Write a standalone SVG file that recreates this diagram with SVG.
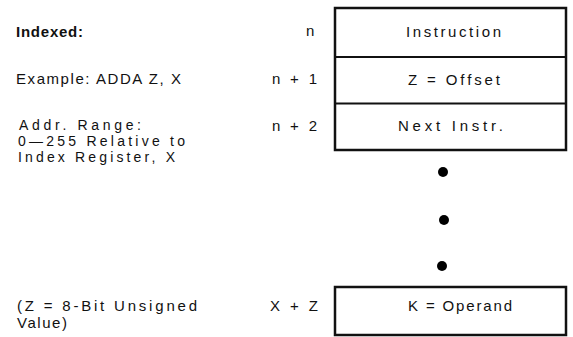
<svg xmlns="http://www.w3.org/2000/svg" width="573" height="337" viewBox="0 0 573 337">
<style>
text{font-family:"Liberation Sans",Arial,sans-serif;font-size:15px;fill:#111}
.b{font-weight:bold}
.s{font-size:14px}
.box{fill:#fff;stroke:#111;stroke-width:2.5}
.div{stroke:#111;stroke-width:2}
.dot{fill:#000}
</style>
<rect width="573" height="337" fill="#fff"/>
<g id="labels">
<text class="b" x="16" y="37" textLength="67" lengthAdjust="spacing">Indexed:</text>
<text x="16" y="84" textLength="165" lengthAdjust="spacing">Example: ADDA Z, X</text>
<text class="s" x="19" y="130" textLength="122" lengthAdjust="spacing">Addr. Range:</text>
<text class="s" x="18" y="146" textLength="167" lengthAdjust="spacing">0—255 Relative to</text>
<text class="s" x="18" y="162" textLength="157" lengthAdjust="spacing">Index Register, X</text>
<text x="17" y="311" textLength="180" lengthAdjust="spacing">(Z = 8-Bit Unsigned</text>
<text x="17" y="328" textLength="50" lengthAdjust="spacing">Value)</text>
</g>
<g id="addresses">
<text x="306" y="36">n</text>
<text x="272" y="84" textLength="45" lengthAdjust="spacing">n + 1</text>
<text x="272" y="131" textLength="45" lengthAdjust="spacing">n + 2</text>
<text x="270" y="311" textLength="48" lengthAdjust="spacing">X + Z</text>
</g>
<g id="memory-top">
<rect class="box" x="335" y="8" width="231" height="142"/>
<line class="div" x1="335" y1="57" x2="566" y2="57"/>
<line class="div" x1="335" y1="103.5" x2="566" y2="103.5"/>
<text x="406" y="37" textLength="95" lengthAdjust="spacing">Instruction</text>
<text x="408" y="85" textLength="92" lengthAdjust="spacing">Z = Offset</text>
<text x="398" y="131" textLength="105" lengthAdjust="spacing">Next Instr.</text>
</g>
<g id="ellipsis">
<circle class="dot" cx="443" cy="172" r="5"/>
<circle class="dot" cx="444" cy="220" r="5"/>
<circle class="dot" cx="442" cy="266" r="5"/>
</g>
<g id="memory-operand">
<rect class="box" x="335" y="287" width="231" height="48"/>
<text x="408" y="311" textLength="104" lengthAdjust="spacing">K = Operand</text>
</g>
<g id="connectors"/>
</svg>
